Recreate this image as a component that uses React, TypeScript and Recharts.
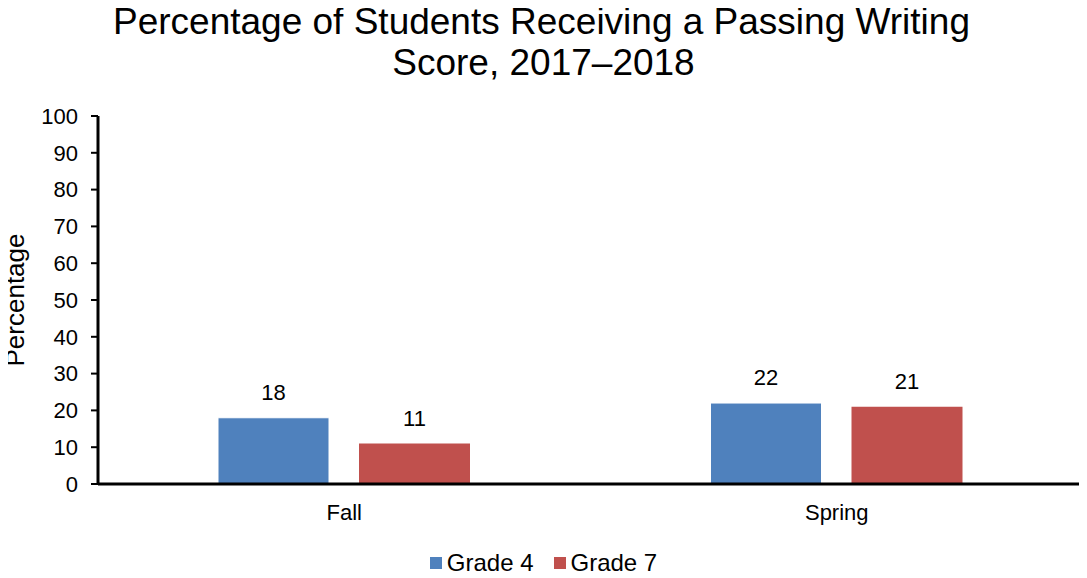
import { BarChart, Bar, XAxis, YAxis, Legend, LabelList } from "recharts";

const seasons = ["Fall", "Spring"];
const grade4 = [18, 22];
const grade7 = [11, 21];
const yTicks = [0, 10, 20, 30, 40, 50, 60, 70, 80, 90, 100];

const FONT = "'Liberation Sans', Arial, sans-serif";

const renderLegend = ({ payload }: any) => (
  <div
    style={{
      display: "flex",
      justifyContent: "center",
      alignItems: "center",
      fontSize: 24,
      lineHeight: "28px",
      fontFamily: FONT,
      color: "#000",
    }}
  >
    {payload.map((p: any, i: number) => (
      <span key={p.value} style={{ display: "flex", alignItems: "center", marginLeft: i ? 20 : 0 }}>
        <span style={{ width: 12, height: 12, background: p.color, display: "inline-block", marginRight: 5 }} />
        {p.value}
      </span>
    ))}
  </div>
);

export default function App() {
  const data = seasons.map((season, i) => ({
    season,
    g4: grade4[i],
    g7: grade7[i],
  }));

  return (
    <div
      style={{
        position: "relative",
        width: 1087,
        height: 578,
        margin: "-8px 0 0 -8px",
        overflow: "hidden",
        background: "#fff",
        fontFamily: FONT,
      }}
    >
      <div
        style={{
          position: "absolute",
          top: 1,
          left: 0,
          width: 1087,
          textAlign: "center",
          fontSize: 37,
          lineHeight: "41px",
          color: "#000",
        }}
      >
        <div style={{ marginLeft: -4 }}>Percentage of Students Receiving a Passing Writing</div>
        <div>Score, 2017–2018</div>
      </div>
      <BarChart
        width={1087}
        height={578}
        data={data}
        margin={{ top: 116, right: 4, left: 38, bottom: 22 }}
        barSize={111}
        barGap={30}
      >
        <XAxis
          dataKey="season"
          axisLine={{ stroke: "#000", strokeWidth: 3 }}
          tickLine={false}
          tick={{ fill: "#000", fontSize: 22, fontFamily: FONT }}
          tickMargin={14}
          height={44}
        />
        <YAxis
          domain={[0, 100]}
          ticks={yTicks}
          interval={0}
          width={60}
          axisLine={{ stroke: "#000", strokeWidth: 3 }}
          tickLine={{ stroke: "#000", strokeWidth: 2 }}
          tickSize={7}
          tick={{ fill: "#000", fontSize: 22, fontFamily: FONT }}
          tickMargin={13}
          label={({ viewBox }: any) => {
            const cy = viewBox.y + viewBox.height / 2;
            return (
              <text
                x={24}
                y={cy}
                transform={`rotate(-90, 24, ${cy})`}
                textAnchor="middle"
                fill="#000"
                fontSize={26}
                fontFamily={FONT}
              >
                Percentage
              </text>
            );
          }}
        />
        <Legend
          verticalAlign="bottom"
          height={28}
          wrapperStyle={{ top: 549, left: 0, width: 1087 }}
          content={renderLegend}
        />
        <Bar dataKey="g4" name="Grade 4" fill="#4F81BD" stroke="#fff" strokeWidth={1} isAnimationActive={false}>
          <LabelList dataKey="g4" position="top" offset={18} style={{ fill: "#000", fontSize: 22, fontFamily: FONT }} />
        </Bar>
        <Bar dataKey="g7" name="Grade 7" fill="#C0504D" isAnimationActive={false}>
          <LabelList dataKey="g7" position="top" offset={18} style={{ fill: "#000", fontSize: 22, fontFamily: FONT }} />
        </Bar>
      </BarChart>
    </div>
  );
}
